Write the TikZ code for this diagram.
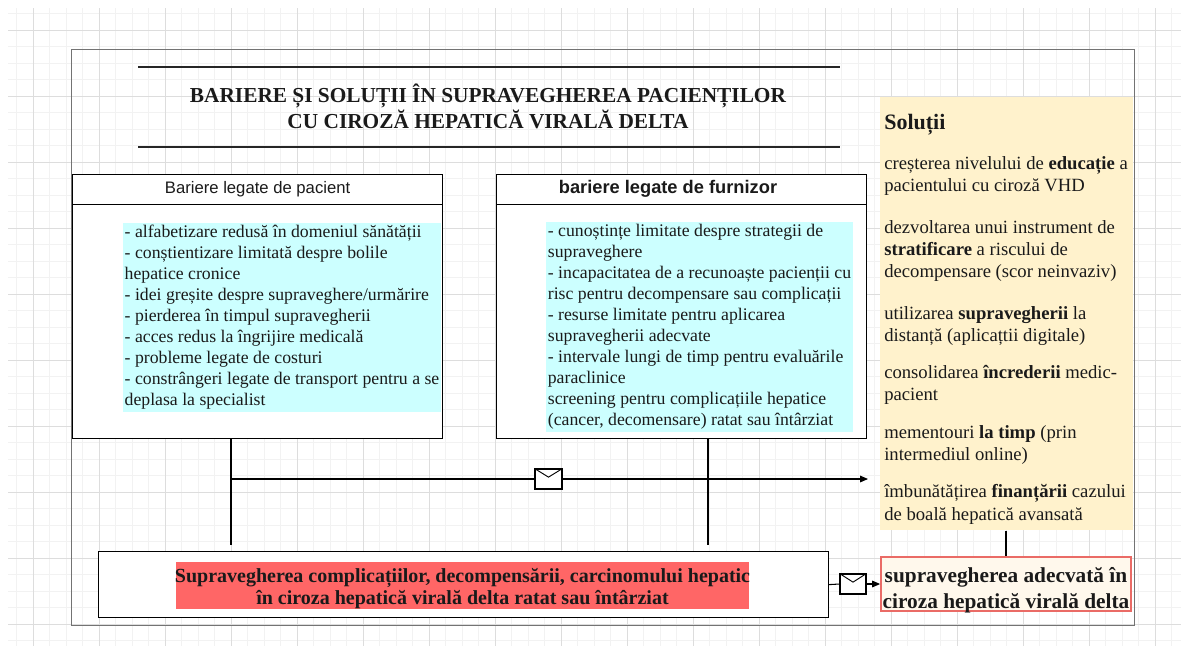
\documentclass[tikz,border=0pt]{standalone}
\usepackage{fontspec}
\setmainfont{Liberation Serif}
\newfontfamily\arialf{Liberation Sans}
\usetikzlibrary{arrows.meta}
\definecolor{cyanfill}{HTML}{CCFFFF}
\definecolor{yelfill}{HTML}{FFF2CC}
\definecolor{redfill}{HTML}{FF6666}
\definecolor{redline}{HTML}{EA6B66}
\definecolor{palefill}{HTML}{FFF8EC}
\definecolor{gridmin}{HTML}{F2F2F2}
\definecolor{gridmaj}{HTML}{DDDDDD}
\definecolor{txt}{HTML}{1A1A1A}
\tikzset{
  hdrbox/.style={draw=black, line width=0.9pt, fill=white, minimum width=277.5pt, minimum height=22.5pt, anchor=north west, inner sep=0pt, text=txt, font=\arialf\fontsize{12.5}{15}\selectfont},
  bodybox/.style={draw=black, line width=0.9pt, fill=white, minimum width=277.5pt, minimum height=175.5pt, anchor=north west},
  cyanbox/.style={fill=cyanfill, align=left, inner xsep=1pt, inner ysep=2pt, text=txt, font=\fontsize{13.3}{15.75}\selectfont},
  solline/.style={anchor=base west, inner sep=0pt, text=txt, font=\fontsize{14}{16.5}\selectfont},
  conn/.style={draw=black, line width=0.8pt},
  arr/.style={conn, -{Triangle[length=6pt,width=5pt]}},
  envbox/.style={draw=black, line width=0.8pt, fill=white, minimum width=20.25pt, minimum height=15pt, inner sep=0pt},
}
\begin{document}
\begin{tikzpicture}[x=0.75pt,y=-0.75pt]
\useasboundingbox (0,0) rectangle (1181,646);
\fill[white] (0,0) rectangle (1181,646);
% grid
\begin{scope}
\clip (8,8) rectangle (1181,646);
\foreach \i in {0,...,71} \draw[gridmin, line width=0.5pt] (16.5*\i,8) -- (16.5*\i,646);
\foreach \i in {0,...,38} \draw[gridmin, line width=0.5pt] (8,13.5+16.5*\i) -- (1181,13.5+16.5*\i);
\foreach \i in {0,...,17} \draw[gridmaj, line width=0.6pt] (33+66*\i,8) -- (33+66*\i,646);
\foreach \i in {0,...,9} \draw[gridmaj, line width=0.6pt] (8,30+66*\i) -- (1181,30+66*\i);
\end{scope}
% outer frame
\draw[black!55, line width=0.7pt] (71,49) rectangle (1134,625);
% title
\draw[black!85, line width=0.9pt] (138,67) -- (840,67);
\draw[black!85, line width=0.9pt] (138,147) -- (840,147);
\node[align=center, text=txt, font=\bfseries\fontsize{16}{19.5}\selectfont] (title) at (488,106)
  {BARIERE ȘI SOLUȚII ÎN SUPRAVEGHEREA PACIENȚILOR\\CU CIROZĂ HEPATICĂ VIRALĂ DELTA};
% box 1
\node[hdrbox] (h1) at (72,174) {Bariere legate de pacient};
\node[bodybox] (b1) at (72,204) {};
\node[cyanbox, minimum width=238.5pt, minimum height=139.5pt] (t1) at (282,317.5)
 {- alfabetizare redusă în domeniul sănătății\\
  - conștientizare limitată despre bolile\\
  hepatice cronice\\
  - idei greșite despre supraveghere/urmărire\\
  - pierderea în timpul supravegherii\\
  - acces redus la îngrijire medicală\\
  - probleme legate de costuri\\
  - constrângeri legate de transport pentru a se\\
  deplasa la specialist};
% box 2
\node[hdrbox] (h2) at (496,174) {};
\node[text=txt, inner sep=0pt, font=\arialf\bfseries\fontsize{13.7}{16}\selectfont] (h2t) at (668,189) {bariere legate de furnizor};
\node[bodybox] (b2) at (496,204) {};
\node[cyanbox, minimum width=230.25pt, minimum height=153.75pt] (t2) at (699.5,327)
 {- cunoștințe limitate despre strategii de\\
  supraveghere\\
  - incapacitatea de a recunoaște pacienții cu\\
  risc pentru decompensare sau complicații\\
  - resurse limitate pentru aplicarea\\
  supravegherii adecvate\\
  - intervale lungi de timp pentru evaluările\\
  paraclinice\\
  screening pentru complicațiile hepatice\\
  (cancer, decomensare) ratat sau întârziat};
% solutions
\node[fill=yelfill, minimum width=189.75pt, minimum height=324.75pt, anchor=north west, inner sep=0pt] (sol) at (880,97) {};
\node[solline, font=\bfseries\fontsize{16.5}{19}\selectfont] (s0) at (884,129) {Soluții};
\node[solline] (s1) at (884,169) {creșterea nivelului de \textbf{educație} a};
\node[solline] (s2) at (884,191) {pacientului cu ciroză VHD};
\node[solline] (s3) at (884,233) {dezvoltarea unui instrument de};
\node[solline] (s4) at (884,255) {\textbf{stratificare} a riscului de};
\node[solline] (s5) at (884,277) {decompensare (scor neinvaziv)};
\node[solline] (s6) at (884,319) {utilizarea \textbf{supravegherii} la};
\node[solline] (s7) at (884,341) {distanță (aplicațtii digitale)};
\node[solline] (s8) at (884,378) {consolidarea \textbf{încrederii} medic-};
\node[solline] (s9) at (884,400) {pacient};
\node[solline] (s10) at (884,438) {mementouri \textbf{la timp} (prin};
\node[solline] (s11) at (884,460) {intermediul online)};
\node[solline] (s12) at (884,497) {îmbunătățirea \textbf{finanțării} cazului};
\node[solline] (s13) at (884,520) {de boală hepatică avansată};
% bottom box
\node[draw=black, line width=0.9pt, fill=white, minimum width=547.5pt, minimum height=49.5pt, anchor=north west] (bot) at (98,551) {};
\node[fill=redfill, minimum width=429.75pt, minimum height=35.25pt, inner sep=0pt] (hl) at (462.5,585.5) {};
\node[align=center, inner sep=0pt, text=txt, font=\bfseries\fontsize{15}{16.5}\selectfont] (hlt) at (462.5,588.5)
 {Supravegherea complicațiilor, decompensării, carcinomului hepatic\\în ciroza hepatică virală delta ratat sau întârziat};
% result box
\node[draw=redline, line width=1.3pt, fill=palefill, minimum width=187.5pt, minimum height=40.5pt, inner sep=0pt] (rb) at (1006,584) {};
\node[align=center, inner sep=0pt, text=txt, font=\bfseries\fontsize{16}{19.5}\selectfont] (rbt) at (1006,590)
 {supravegherea adecvată în\\ciroza hepatică virală delta};
% connectors
\coordinate (j1) at (231,545);
\coordinate (j2) at (708,545);
\coordinate (m1) at (231,479);
\coordinate (a1) at (868,479);
\coordinate (k) at (1006,557);
\draw[conn] (b1.south -| j1) -- (j1);
\draw[conn] (b2.south -| j2) -- (j2);
\node[envbox] (env1) at (548.5,479) {};
\draw[conn] (m1) -- (env1.west);
\draw[arr] (env1.east) -- (a1);
\draw[line width=0.7pt] (env1.north west) -- ([yshift=-6.5pt]env1.north) -- (env1.north east);
\draw[conn] (sol.south -| k) -- (rb.north);
\node[envbox, minimum width=19.5pt] (env2) at (853,584) {};
\draw[conn] (bot.east) -- (env2.west);
\draw[arr] (env2.east) -- (rb.west);
\draw[line width=0.7pt] (env2.north west) -- ([yshift=-6.5pt]env2.north) -- (env2.north east);
\end{tikzpicture}
\end{document}
